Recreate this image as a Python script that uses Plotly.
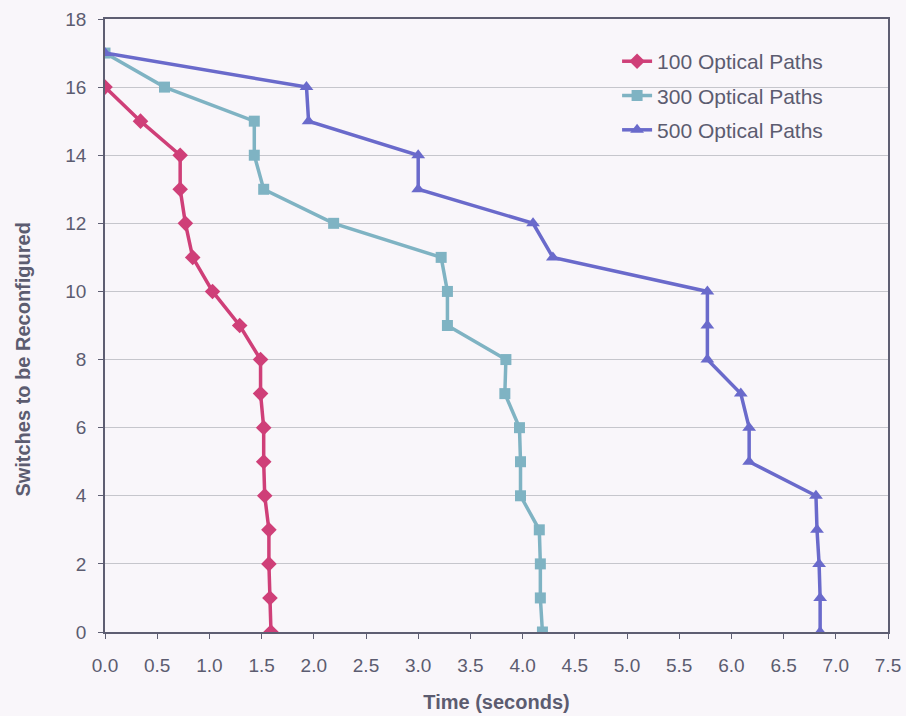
import plotly.graph_objects as go

switches_100 = list(range(16, -1, -1))
time_100 = [0.00, 0.34, 0.72, 0.72, 0.77, 0.84, 1.03, 1.29, 1.49, 1.49, 1.52, 1.52, 1.53, 1.57, 1.57, 1.58, 1.59]

switches_300 = list(range(17, -1, -1))
time_300 = [0.00, 0.57, 1.43, 1.43, 1.52, 2.19, 3.22, 3.28, 3.28, 3.84, 3.83, 3.97, 3.98, 3.98, 4.16, 4.17, 4.17, 4.19]

switches_500 = list(range(17, -1, -1))
time_500 = [0.00, 1.93, 1.95, 3.00, 3.00, 4.10, 4.29, 5.77, 5.77, 5.77, 6.09, 6.17, 6.17, 6.81, 6.82, 6.84, 6.85, 6.85]

x_ticks = [i * 0.5 for i in range(16)]
y_ticks = list(range(0, 19, 2))

x_title = "Time (seconds)"
y_title = "Switches to be Reconfigured"

series = [
    ("100 Optical Paths", time_100, switches_100, "#cf3f78", "diamond", 12),
    ("300 Optical Paths", time_300, switches_300, "#7fb3c3", "square", 11),
    ("500 Optical Paths", time_500, switches_500, "#6a6acb", "triangle-up", 12),
]

fig = go.Figure()
for i, (name, xs, ys, color, sym, size) in enumerate(series):
    fig.add_trace(go.Scatter(
        x=xs, y=ys, name=name, mode="lines+markers",
        line=dict(color=color, width=3.5),
        marker=dict(symbol=sym, size=size, color=color),
        legendgroup=f"g{i}",
    ))

font_color = "#5c5c70"
axis_color = "#5e5e72"
bg = "#f9f6fa"
fig.update_layout(
    width=906, height=716,
    margin=dict(l=105, r=18, t=19, b=84, autoexpand=False),
    paper_bgcolor=bg,
    plot_bgcolor=bg,
    font=dict(family="Liberation Sans, Arial, sans-serif", size=20, color=font_color),
    showlegend=True,
    legend=dict(
        x=0.654, y=0.964, xanchor="left", yanchor="top",
        bgcolor="rgba(0,0,0,0)",
        font=dict(size=21, color=font_color),
        tracegroupgap=4,
        traceorder="grouped",
    ),
    xaxis=dict(
        range=[0, 7.5], tickvals=x_ticks, tickformat=".1f",
        showgrid=False, zeroline=False, automargin=False,
        showline=True, linecolor=axis_color, linewidth=1.5, mirror=True,
        ticks="outside", ticklen=5, tickcolor=axis_color,
        ticklabelstandoff=10,
        tickfont=dict(size=19, color=font_color),
        title=dict(text="<b>" + x_title + "</b>", font=dict(size=20, color=font_color), standoff=20),
    ),
    yaxis=dict(
        range=[0, 18], tickvals=y_ticks,
        showgrid=True, gridcolor="#c6c6cc", gridwidth=1.2, zeroline=False, automargin=False,
        showline=True, linecolor=axis_color, linewidth=1.5, mirror=True,
        ticks="outside", ticklen=5, tickcolor=axis_color,
        ticklabelstandoff=8,
        tickfont=dict(size=19, color=font_color),
    ),
    annotations=[dict(
        text="<b>" + y_title + "</b>", textangle=-90,
        xref="paper", yref="paper", x=-0.105, y=0.444,
        xanchor="center", yanchor="middle", showarrow=False,
        font=dict(size=20, color=font_color),
    )],
)

fig.write_html(
    "out.html",
    config={"displayModeBar": False},
    post_script="document.body.style.margin='0';document.body.style.background='" + bg + "';",
)
